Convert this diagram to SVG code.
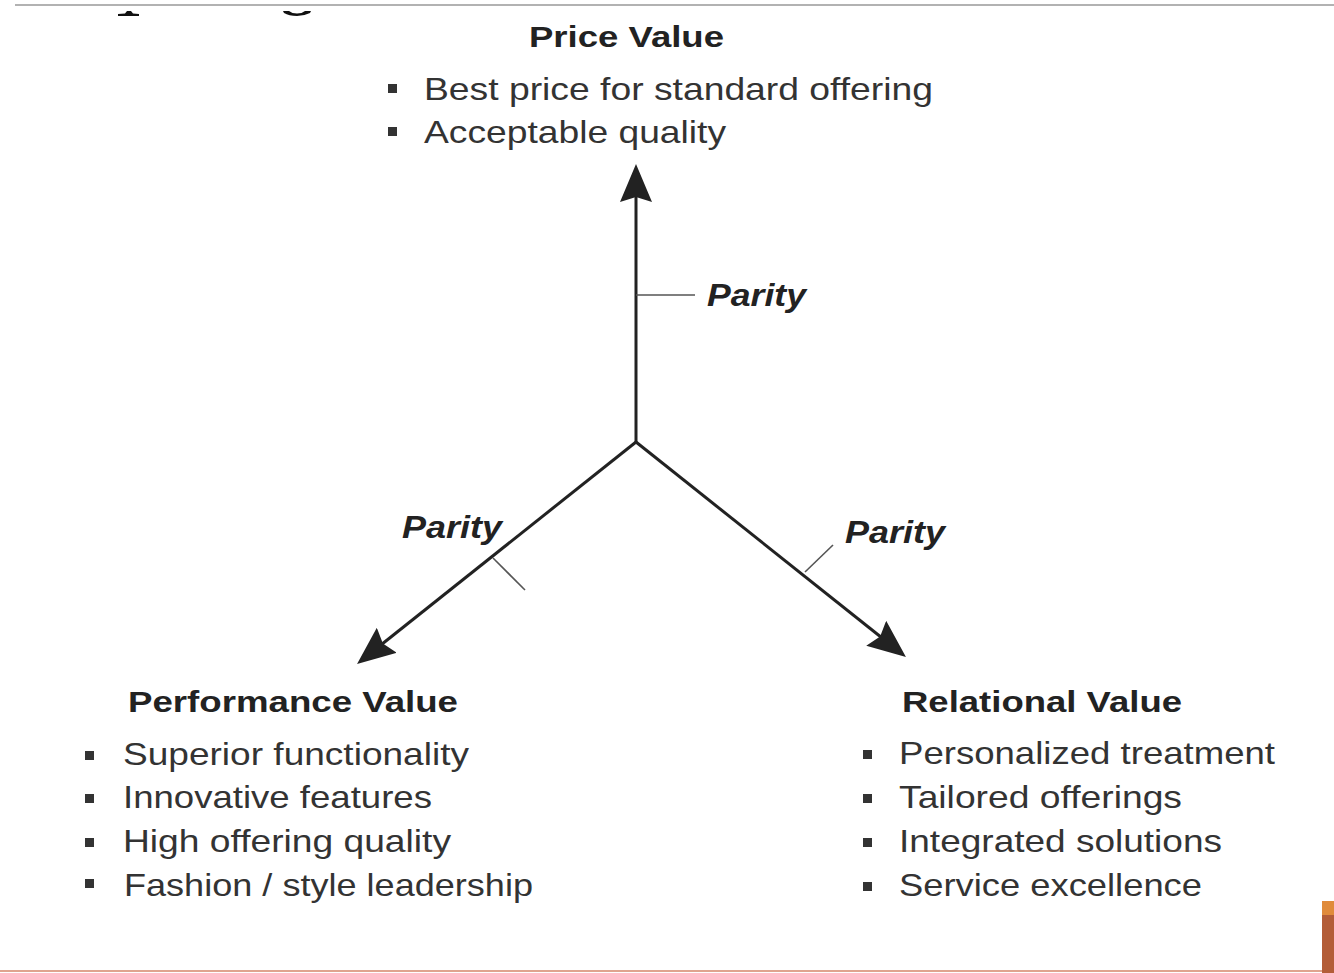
<svg xmlns="http://www.w3.org/2000/svg" width="1334" height="973" viewBox="0 0 1334 973">
<style>
.t{font-family:"Liberation Sans",Arial,sans-serif;font-size:31.5px;fill:#333}
.h{font-family:"Liberation Sans",Arial,sans-serif;font-size:30px;font-weight:bold;fill:#222}
.p{font-family:"Liberation Sans",Arial,sans-serif;font-size:31px;font-weight:bold;font-style:italic;fill:#222}
.b{fill:#333}
.axis{stroke:#222;stroke-width:3;fill:none}
.tick{stroke:#555;stroke-width:1.6;fill:none}
</style>
<defs>
<marker id="ah" markerUnits="userSpaceOnUse" markerWidth="40" markerHeight="34" refX="18" refY="16" orient="auto" viewBox="0 0 40 34">
<path d="M0,0 L38,16 L0,32 L5,16 Z" fill="#222"/>
</marker>
</defs>
<rect width="1334" height="973" fill="#fff"/>
<line x1="15" y1="5" x2="1334" y2="5" stroke="#999" stroke-width="1.5"/>
<path d="M118,16 L118,14 L125,13.5 L127,11 L131,11 L133,13.5 L139,14 L139,16 Z" fill="#111"/>
<path d="M283,11 L289,11 Q292,13.5 297,13.5 Q302,13.5 305,11 L311,11 L310,13 Q304,16 297,16 Q289,16 284,13 Z" fill="#111"/>
<line x1="0" y1="971" x2="1322" y2="971" stroke="#d4866a" stroke-width="1.6"/>
<rect x="1322" y="901" width="12" height="14" fill="#e08b3b"/>
<rect x="1322" y="915" width="12" height="58" fill="#b35d38"/>
<g id="connectors">
<line class="axis" x1="636" y1="442" x2="636" y2="184" marker-end="url(#ah)"/>
<line class="axis" x1="636" y1="442" x2="372.7" y2="651.5" marker-end="url(#ah)"/>
<line class="axis" x1="636" y1="442" x2="890.3" y2="644.5" marker-end="url(#ah)"/>
<line class="tick" x1="636" y1="295" x2="695" y2="295"/>
<line class="tick" x1="493" y1="558" x2="525" y2="590"/>
<line class="tick" x1="805" y1="572" x2="833" y2="545"/>
<text class="p" x="707" y="306" textLength="99" lengthAdjust="spacingAndGlyphs">Parity</text>
<text class="p" x="402" y="538" textLength="100" lengthAdjust="spacingAndGlyphs">Parity</text>
<text class="p" x="845" y="543" textLength="100" lengthAdjust="spacingAndGlyphs">Parity</text>
</g>
<g id="price-value">
<text class="h" x="529" y="47" textLength="195" lengthAdjust="spacingAndGlyphs">Price Value</text>
<rect class="b" x="388" y="84" width="9" height="9"/>
<text class="t" x="424" y="100" textLength="509" lengthAdjust="spacingAndGlyphs">Best price for standard offering</text>
<rect class="b" x="388" y="127" width="9" height="9"/>
<text class="t" x="424" y="143" textLength="302" lengthAdjust="spacingAndGlyphs">Acceptable quality</text>
</g>
<g id="performance-value">
<text class="h" x="128" y="712" textLength="330" lengthAdjust="spacingAndGlyphs">Performance Value</text>
<rect class="b" x="85" y="751" width="9" height="9"/>
<text class="t" x="123" y="765" textLength="346" lengthAdjust="spacingAndGlyphs">Superior functionality</text>
<rect class="b" x="85" y="794" width="9" height="9"/>
<text class="t" x="123" y="808" textLength="309" lengthAdjust="spacingAndGlyphs">Innovative features</text>
<rect class="b" x="85" y="838" width="9" height="9"/>
<text class="t" x="123" y="852" textLength="328" lengthAdjust="spacingAndGlyphs">High offering quality</text>
<rect class="b" x="85" y="879" width="9" height="9"/>
<text class="t" x="124" y="896" textLength="409" lengthAdjust="spacingAndGlyphs">Fashion / style leadership</text>
</g>
<g id="relational-value">
<text class="h" x="902" y="712" textLength="280" lengthAdjust="spacingAndGlyphs">Relational Value</text>
<rect class="b" x="863" y="750" width="9" height="9"/>
<text class="t" x="899" y="764" textLength="376" lengthAdjust="spacingAndGlyphs">Personalized treatment</text>
<rect class="b" x="863" y="794" width="9" height="9"/>
<text class="t" x="899" y="808" textLength="283" lengthAdjust="spacingAndGlyphs">Tailored offerings</text>
<rect class="b" x="863" y="838" width="9" height="9"/>
<text class="t" x="899" y="852" textLength="323" lengthAdjust="spacingAndGlyphs">Integrated solutions</text>
<rect class="b" x="863" y="882" width="9" height="9"/>
<text class="t" x="899" y="896" textLength="303" lengthAdjust="spacingAndGlyphs">Service excellence</text>
</g>
</svg>
